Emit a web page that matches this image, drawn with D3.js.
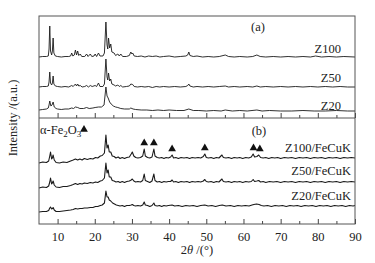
<!DOCTYPE html>
<html>
<head>
<script src="https://d3js.org/d3.v7.min.js"></script>
<style>
  body { margin: 0; background: #fff; }
  text { font-family: "Liberation Serif", "Times New Roman", serif; fill: #222; }
</style>
</head>
<body>
<svg class="chart"></svg>
<script>
// 2theta / intensity pairs, intensities relative to each curve's offset
var z100 = [[5,0],[6,0.5],[7,0.5],[7.5,1],[7.7,8],[7.9,31],[8.1,6],[8.4,2],[8.6,6],[8.8,19],[9.0,4],[9.4,1],[10,0.5],[11,0],[12,0.5],[13,0.5],[13.5,1],[13.8,4],[14.1,1],[14.5,2],[14.8,7],[15.1,2],[15.4,6],[15.7,1.5],[16.1,3],[16.5,0.5],[17.3,0.5],[17.8,3],[18.2,0.5],[18.8,3],[19.2,0.5],[19.8,1],[20.1,3],[20.5,0.5],[21.0,4],[21.4,1],[22.2,1],[22.6,4],[23.0,35],[23.3,12],[23.5,8],[23.7,19],[24.0,9],[24.3,13],[24.6,5],[25.2,4],[25.6,1.5],[26.2,3],[26.6,1],[27.0,3],[27.5,0.5],[28.5,0.5],[29.3,1.5],[29.7,5],[30.0,3],[30.2,4],[30.6,1],[31.5,0.5],[32.5,1],[33.5,0],[34.5,1],[35.5,0.5],[36.5,1],[37.5,0],[38.5,0.5],[40,1],[41.5,0],[43,0.5],[44.5,1],[45.0,2],[45.3,5],[45.6,1.5],[46.5,0.5],[47.5,1],[49,0],[50.5,0.5],[52,0],[53.5,0.5],[55.1,2],[56,0.5],[57.5,0],[59,0.5],[61,0],[62.5,0.5],[63.6,2],[64.5,0.5],[66,0],[68,0.5],[70,0],[72,0.5],[74,0],[76,0.5],[78,0],[79.4,1],[81,0],[83,0.5],[85,0],[87,0.5],[90,0]];
var z50 = [[5,0],[6,0.5],[7,0.5],[7.5,1],[7.7,5],[7.9,15],[8.1,4],[8.4,2],[8.6,4],[8.8,11],[9.0,3],[9.4,1],[10,0.5],[11,0],[12,0.5],[13,0],[13.8,1.5],[14.2,0.5],[14.8,3],[15.1,1],[15.4,3],[15.7,1],[16.1,1.5],[16.6,0],[17.3,0.5],[17.8,1.5],[18.3,0],[18.8,1.5],[19.3,0.5],[20.1,1.5],[20.5,0.5],[21.0,4],[21.4,0.5],[22.2,0.5],[22.6,3],[23.0,28],[23.3,10],[23.5,7],[23.7,14],[24.0,6],[24.3,8],[24.6,3],[25.2,2],[25.6,1],[26.2,2],[26.6,0.5],[27.0,1.5],[27.5,0],[28.5,0.5],[29.3,1],[29.7,3],[30.2,2.5],[30.6,0.5],[31.5,0],[32.5,0.5],[33.5,0],[34.5,0.5],[35.5,-0.5],[36.5,0.5],[37.5,0],[38.5,0.5],[40,0],[41.5,0.5],[43,0],[44.5,0.5],[45.0,1.5],[45.3,3],[45.6,1],[46.5,0],[47.5,0.5],[49,0],[50.5,0.5],[52,0],[53.5,0.5],[55.1,1],[56,0],[57.5,0.5],[59,0],[61,0.5],[62.5,0],[63.6,1],[64.5,0],[66,0.5],[68,0],[70,0.5],[72,0],[74,0.5],[76,0],[78,0.5],[80,0],[82,0.5],[84,0],[86,0.5],[88,0],[90,0]];
var z20 = [[5,1],[6,1.5],[7,2],[7.5,3],[7.7,6],[7.9,10],[8.2,5],[8.5,6],[8.8,9],[9.1,4],[9.6,2.5],[10,2],[11,1.5],[12,2],[13,2],[13.8,3],[14.3,2.5],[14.8,4],[15.4,3.5],[16,2.5],[17,2.5],[17.8,3.5],[18.5,2.5],[19.5,3],[20.1,3.5],[21,4],[21.8,4],[22.5,6],[23.0,24],[23.3,15],[23.6,13],[24,9],[24.4,7],[25,5],[25.6,4],[26.2,3.5],[27,2.5],[28,2],[29.3,2],[29.7,3],[30.3,2],[31,1.5],[32.5,1],[34,1],[35.5,0.5],[37,1],[38.5,0.5],[40,1],[42,0.5],[44,0.5],[45.3,2],[46.5,0.5],[48,0.5],[50,0],[52,0.5],[54,0],[55.1,1],[57,0],[59,0.5],[61,0],[63.6,1],[65,0],[67,0.5],[70,0],[73,0],[76,0.5],[79,0],[82,0],[85,0.5],[88,0],[90,0]];

var zfe100 = [[5,-5],[6,-4],[7,-4.5],[7.6,-3],[7.9,2],[8.1,6],[8.4,-1],[8.6,0],[8.8,3],[9.1,-2],[9.6,-4.5],[10.5,-5],[11.5,-4],[12.5,-4.5],[13.5,-3],[14.2,-2],[14.8,-1],[15.4,-2],[16,-1],[16.6,-2],[17.2,-0.5],[18,-1.5],[18.8,-0.5],[19.5,-1],[20.2,0.5],[20.8,0],[21.5,2],[22,2.5],[22.6,5],[23.0,23],[23.3,10],[23.6,13],[23.9,6],[24.3,6],[24.7,2],[25.2,1.5],[25.7,0],[26.3,1],[26.8,-0.5],[27.4,0.5],[28,-0.5],[28.6,0.5],[29.3,1],[29.8,4],[30.1,6],[30.5,2],[31,0.5],[31.6,0],[32.3,0.5],[32.9,2],[33.3,9],[33.6,2],[34.2,0.5],[34.8,0],[35.4,1],[35.9,9],[36.2,2],[36.8,0.5],[37.4,0],[38,0.5],[38.6,-0.5],[39.2,0.5],[39.8,0],[40.4,1],[40.8,3],[41.2,0],[41.8,0.5],[42.5,-0.5],[43.2,0.5],[44,0],[44.8,0.5],[45.5,-0.5],[46.2,0.5],[47,0],[47.8,0.5],[48.5,0],[49.2,1.5],[49.6,4],[50,0.5],[50.6,0],[51.3,0.5],[52,-0.5],[52.7,0.5],[53.4,0],[54.2,3],[54.6,0.5],[55.3,0],[56,0.5],[56.8,-0.5],[57.5,0.5],[58.3,0],[59,0.5],[59.8,-0.5],[60.6,0.5],[61.4,0],[62.1,1],[62.6,4],[63,1],[63.6,1.5],[64.1,3],[64.6,0.5],[65.3,0],[66,0.5],[66.8,-0.5],[67.6,0.5],[68.4,0],[69.2,0.5],[70,-0.5],[71,0.5],[72,0],[73,0.5],[74,-0.5],[75,0.5],[76,0],[77,0.5],[78,-0.5],[79,0.5],[80,0],[81,0.5],[82,-0.5],[83,0.5],[84,0],[85,0.5],[86,-0.5],[87,0.5],[88,0],[89,0.5],[90,0]];
var zfe50 = [[5,-6],[6,-5],[7,-5.5],[7.6,-4],[7.9,0],[8.1,4],[8.4,-2],[8.6,-1],[8.8,1],[9.1,-3],[9.6,-5],[10.5,-5.5],[11.5,-4.5],[12.5,-4.5],[13.5,-3.5],[14.2,-2.5],[14.8,-1.5],[15.4,-2.5],[16,-1.5],[16.6,-2],[17.2,-1],[18,-1.5],[18.8,-0.5],[19.5,-1],[20.2,0],[20.8,-0.5],[21.5,1],[22,1.5],[22.6,4],[23.0,19],[23.3,9],[23.6,12],[23.9,5],[24.3,5],[24.7,1.5],[25.2,1],[25.7,0],[26.3,0.5],[26.8,-0.5],[27.4,0.5],[28,-0.5],[28.6,0.5],[29.3,1],[29.8,2],[30.1,3],[30.5,1],[31,0],[31.6,0.5],[32.3,0],[32.9,1.5],[33.3,8],[33.6,1.5],[34.2,0.5],[34.8,-0.5],[35.4,1],[35.9,8],[36.2,1.5],[36.8,0],[37.4,0.5],[38,-0.5],[38.6,0.5],[39.2,0],[39.8,0.5],[40.4,0.5],[40.8,2],[41.2,0],[41.8,0.5],[42.5,-0.5],[43.2,0.5],[44,0],[44.8,0.5],[45.5,-0.5],[46.2,0.5],[47,0],[47.8,0.5],[48.5,0],[49.2,1],[49.6,2.5],[50,0.5],[50.6,0],[51.3,0.5],[52,-0.5],[52.7,0.5],[53.4,0],[54.2,3],[54.6,0.5],[55.3,0],[56,0.5],[56.8,-0.5],[57.5,0.5],[58.3,0],[59,0.5],[59.8,-0.5],[60.6,0.5],[61.4,0],[62.1,0.5],[62.6,2.5],[63,0.5],[63.6,1],[64.1,1.5],[64.6,0],[65.3,0.5],[66,-0.5],[67,0.5],[68,0],[69,0.5],[70,-0.5],[71,0.5],[72,0],[73,0.5],[74,-0.5],[75,0.5],[76,0],[77,0.5],[78,-0.5],[79,0.5],[80,0],[81,0.5],[82,-0.5],[83,0.5],[84,0],[85,0.5],[86,-0.5],[87,0.5],[88,0],[89,0.5],[90,0]];
var zfe20 = [[5,-6],[6,-5.5],[7,-5.5],[7.6,-4.5],[7.9,-2],[8.1,-1],[8.4,-3],[8.6,-2.5],[8.8,-1.5],[9.1,-4],[9.6,-5.5],[10.5,-5.5],[11.5,-5],[12.5,-4.5],[13.5,-4],[14.2,-3.5],[14.8,-2.5],[15.4,-3],[16,-2.5],[16.6,-2.5],[17.2,-2],[18,-2],[18.8,-1.5],[19.5,-1.5],[20.2,-0.5],[20.8,-0.5],[21.5,0.5],[22,1],[22.6,3],[23.0,15],[23.3,9],[23.6,9],[23.9,6],[24.3,5],[24.8,3],[25.3,2],[25.8,1],[26.3,0.5],[26.8,0],[27.4,0.5],[28,-0.5],[28.6,0.5],[29.3,0.5],[29.8,1],[30.1,1.5],[30.5,0.5],[31,0],[31.6,0.5],[32.3,0],[32.9,1],[33.3,4],[33.6,1],[34.2,0.5],[34.8,-0.5],[35.4,0.5],[35.9,3],[36.2,0.5],[36.8,0],[37.4,0.5],[38,-0.5],[38.6,0.5],[39.2,0],[39.8,0.5],[40.8,1],[41.5,0],[42.5,0.5],[43.5,-0.5],[44.5,0.5],[45.5,0],[46.5,0.5],[47.5,-0.5],[48.5,0.5],[49.6,1],[50.5,0],[51.5,0.5],[52.5,-0.5],[53.5,0.5],[54.3,1],[55.3,0],[56.5,0.5],[57.5,-0.5],[58.5,0.5],[59.5,0],[60.5,0.5],[61.5,0],[62.3,1],[62.8,1.5],[63.5,2],[64.2,1.5],[64.8,0.5],[65.5,0],[66.5,0.5],[67.5,-0.5],[68.5,0.5],[69.5,0],[70.5,0.5],[71.5,-0.5],[72.5,0.5],[73.5,0],[74.5,0.5],[75.5,-0.5],[76.5,0.5],[77.5,0],[78.5,0.5],[79.5,-0.5],[80.5,0.5],[81.5,0],[82.5,0.5],[83.5,-0.5],[84.5,0.5],[85.5,0],[86.5,0.5],[87.5,-0.5],[88.5,0.5],[89.5,0],[90,0.5]];

var topNames = ["Z100", "Z50", "Z20"],
    topOffsets = [61, 31, 7];
var bottomNames = ["Z100/FeCuK", "Z50/FeCuK", "Z20/FeCuK"],
    bottomOffsets = [66, 42, 18];
var hematitePeaks = [33.3, 35.9, 40.8, 49.6, 62.7, 64.4];
var xTicks = [10, 20, 30, 40, 50, 60, 70, 80, 90],
    xMinorTicks = [15, 25, 35, 45, 55, 65, 75, 85];

var svgWidth = 375, svgHeight = 263,
    frame = {left: 39, right: 355, top: 16, mid: 118, bottom: 224};

var svg = d3.select(".chart").attr("width", svgWidth).attr("height", svgHeight);

var xScale = d3.scaleLinear().domain([5, 90]).range([frame.left, frame.right]);
var yTop = d3.scaleLinear().domain([0, frame.mid - frame.top]).range([frame.mid, frame.top]);
var yBot = d3.scaleLinear().domain([0, frame.bottom - frame.mid]).range([frame.bottom, frame.mid]);

function drawPanel(series, offsets, yScale, width) {
    series.forEach(function (s, i) {
        var line = d3.line()
            .x(d => xScale(d[0]))
            .y(d => yScale(d[1] + offsets[i]));
        svg.append("path")
            .datum(s)
            .attr("d", line)
            .attr("fill", "none")
            .attr("stroke", "#1a1a1a")
            .attr("stroke-width", width)
            .attr("stroke-linejoin", "round");
    });
}
drawPanel([z100, z50, z20], topOffsets, yTop, 0.9);
drawPanel([zfe100, zfe50, zfe20], bottomOffsets, yBot, 1.1);

// ticks, pointing inward, on both panel bottoms
[frame.mid, frame.bottom].forEach(function (yPos, k) {
    svg.append("g")
        .attr("transform", "translate(0," + yPos + ")")
        .call(d3.axisBottom(xScale).tickValues(xMinorTicks).tickSize(-3).tickFormat(""))
        .call(g => g.select(".domain").remove());
    var ax = svg.append("g")
        .attr("transform", "translate(0," + yPos + ")")
        .call(d3.axisBottom(xScale).tickValues(xTicks).tickSize(-5).tickPadding(8)
              .tickFormat(k == 1 ? d3.format("d") : ""))
        .call(g => g.select(".domain").remove());
    ax.selectAll("text").attr("font-size", "12.5px").attr("font-family", "Liberation Serif").attr("fill", "#222");
});
svg.selectAll(".tick line").attr("stroke", "#444");

// frame
svg.append("rect")
    .attr("x", frame.left).attr("y", frame.top)
    .attr("width", frame.right - frame.left).attr("height", frame.bottom - frame.top)
    .attr("fill", "none").attr("stroke", "#555").attr("stroke-width", 1);
svg.append("line")
    .attr("x1", frame.left).attr("x2", frame.right).attr("y1", frame.mid).attr("y2", frame.mid)
    .attr("stroke", "#555").attr("stroke-width", 1);

// curve labels
var fs = "12.5px";
var topLabelY = [53, 82, 110];
topNames.forEach(function (n, i) {
    svg.append("text").attr("x", 341).attr("y", topLabelY[i])
        .attr("text-anchor", "end").attr("font-size", fs).text(n);
});
var botLabelY = [151.5, 175, 200];
bottomNames.forEach(function (n, i) {
    svg.append("text").attr("x", 351).attr("y", botLabelY[i])
        .attr("text-anchor", "end").attr("font-size", fs).text(n);
});
svg.append("text").attr("x", 258).attr("y", 31).attr("text-anchor", "middle").attr("font-size", fs).text("(a)");
svg.append("text").attr("x", 259).attr("y", 135).attr("text-anchor", "middle").attr("font-size", fs).text("(b)");

// hematite markers above the Z100/FeCuK peaks
var tri = d3.symbol().type(d3.symbolTriangle).size(26);
hematitePeaks.forEach(function (p) {
    var near = zfe100.filter(d => Math.abs(d[0] - p) < 0.6);
    var peakY = yBot(d3.max(near, d => d[1]) + bottomOffsets[0]);
    svg.append("path").attr("d", tri)
        .attr("transform", "translate(" + xScale(p) + "," + (peakY - 6) + ")")
        .attr("fill", "#111");
});
var legend = svg.append("text").attr("x", 40).attr("y", 134).attr("font-size", fs);
legend.append("tspan").text("\u03b1-Fe");
legend.append("tspan").attr("font-size", "9px").attr("dy", 3).text("2");
legend.append("tspan").attr("dy", -3).text("O");
legend.append("tspan").attr("font-size", "9px").attr("dy", 3).text("3");
svg.append("path").attr("d", tri)
    .attr("transform", "translate(84,129.5)").attr("fill", "#111");

// axis titles
var xt = svg.append("text").attr("x", 197).attr("y", 254).attr("text-anchor", "middle").attr("font-size", fs);
xt.append("tspan").text("2");
xt.append("tspan").attr("font-style", "italic").text("\u03b8");
xt.append("tspan").text(" /(\u00b0)");
svg.append("text")
    .attr("transform", "translate(17,118) rotate(-90)")
    .attr("text-anchor", "middle").attr("font-size", fs)
    .text("Intensity /(a.u.)");
</script>
</body>
</html>
